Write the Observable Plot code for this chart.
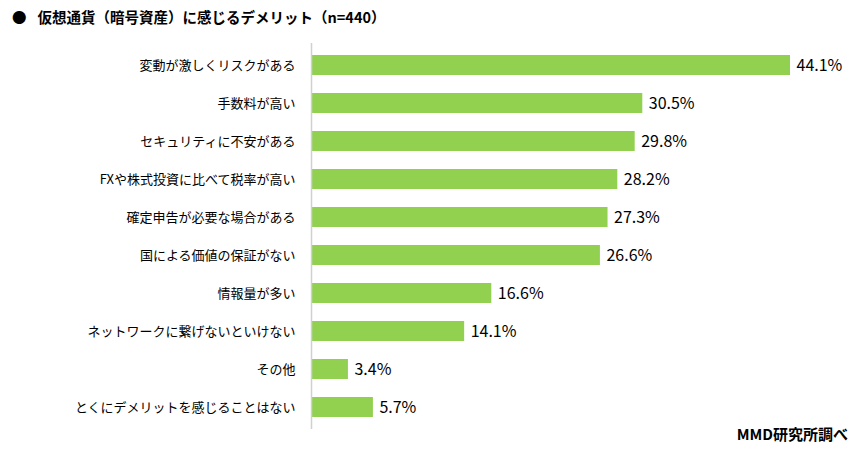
<!DOCTYPE html>
<html><head><meta charset="utf-8">
<script src="https://cdn.jsdelivr.net/npm/d3@7"></script>
<script src="https://cdn.jsdelivr.net/npm/@observablehq/plot@0.6"></script>
<style>
body{margin:0;background:#fff;}
#wrap{position:relative;width:859px;height:454px;font-family:"Noto Sans CJK JP","Noto Sans",sans-serif;}
#title{position:absolute;left:12px;top:6px;font-size:14.5px;font-weight:bold;color:#000;white-space:nowrap;}
#title .dot{display:inline-block;margin-right:11px;}
#caption{position:absolute;right:11px;top:423px;font-size:15px;font-weight:bold;color:#000;}
</style></head>
<body><div id="wrap"><div id="title"><span class="dot">●</span>仮想通貨（暗号資産）に感じるデメリット（n=440）</div><div id="chart"></div><div id="caption">MMD研究所調べ</div></div>
<script>
const categories = ["変動が激しくリスクがある","手数料が高い","セキュリティに不安がある","FXや株式投資に比べて税率が高い","確定申告が必要な場合がある","国による価値の保証がない","情報量が多い","ネットワークに繋げないといけない","その他","とくにデメリットを感じることはない"];
const values = [44.1,30.5,29.8,28.2,27.3,26.6,16.6,14.1,3.4,5.7];
const data = categories.map((c,i)=>({category:c, value:values[i]}));
const chart = Plot.plot({
  width:859, height:454,
  marginLeft:311, marginRight:69, marginTop:34, marginBottom:16,
  style:{fontFamily:'"Noto Sans CJK JP","Noto Sans",sans-serif', color:"#000", background:"#fff"},
  x:{domain:[0,44.1], axis:null},
  y:{domain:categories, padding:0.48, label:null},
  marks:[
    Plot.barX(data,{y:"category", x:"value", fill:"#92D050"}),
    Plot.ruleX([0],{stroke:"#d0d0d0", strokeWidth:1.5, insetTop:9, insetBottom:9}),
    Plot.axisY({tickSize:0, tickPadding:16, fontSize:13, label:null, fill:"#000"}),
    Plot.text(data,{y:"category", x:"value", text:d=>d.value.toFixed(1)+"%", textAnchor:"start", dx:6, fontSize:16, fontWeight:"normal", fill:"#000"})
  ]
});
document.getElementById("chart").appendChild(chart);
</script></body></html>
